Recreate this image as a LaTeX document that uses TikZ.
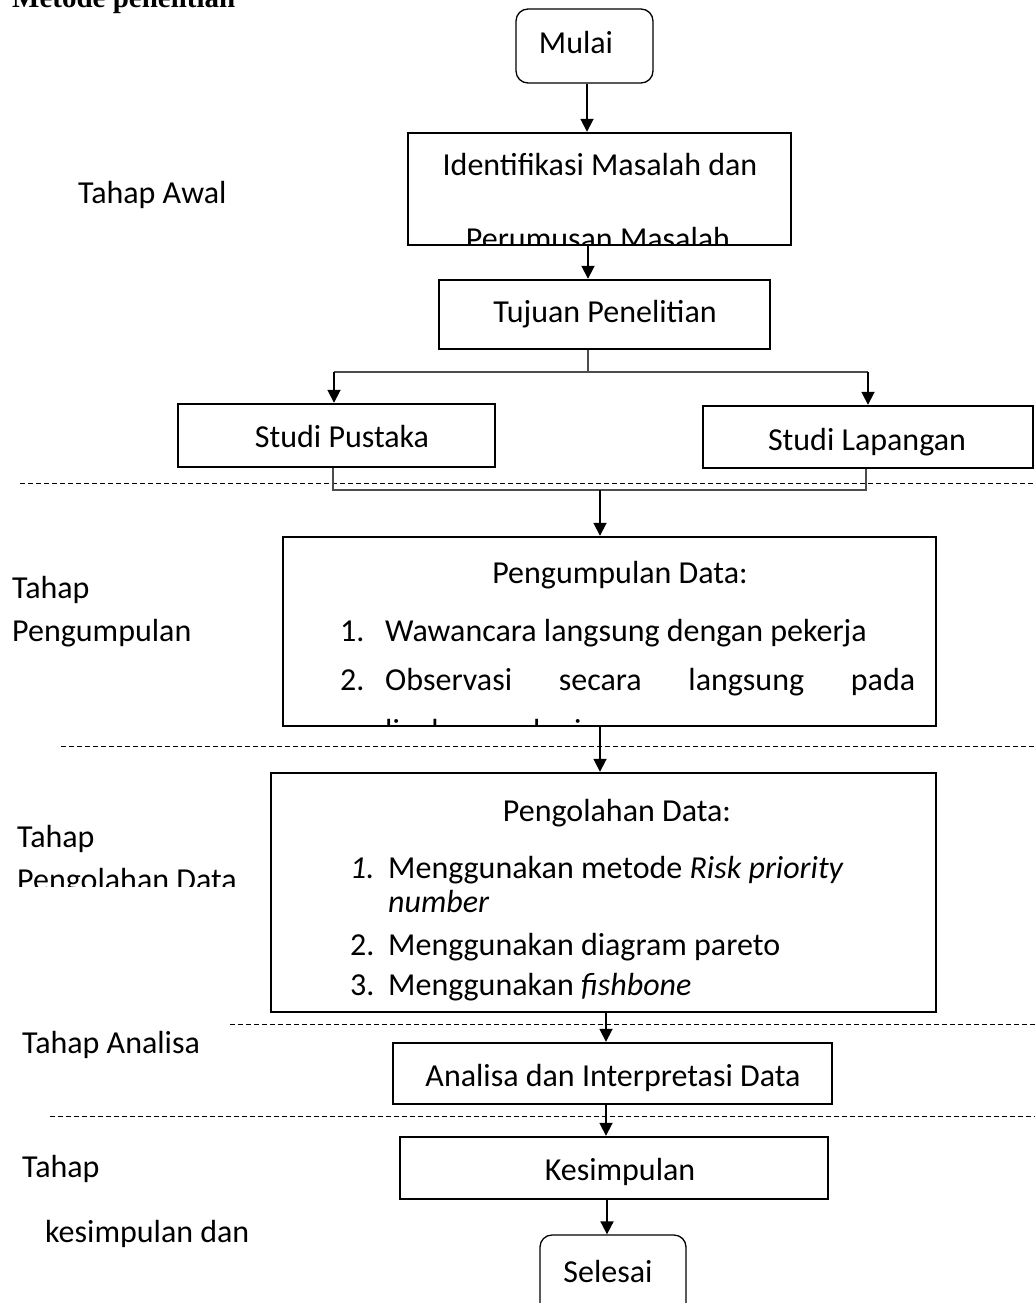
\documentclass[tikz,border=0pt]{standalone}
\usepackage{fontspec}
\setmainfont{Carlito}
\newfontfamily\titlefont{Liberation Serif}
\usetikzlibrary{arrows.meta,calc}
\tikzset{
  box/.style={draw, line width=2.4pt, inner sep=0pt},
  term/.style={draw, line width=1.3pt, rounded corners=12pt, inner sep=0pt},
  arr/.style={-{Triangle[length=13pt,width=13pt]}, line width=1.8pt},
  conn/.style={line width=1.4pt, draw=black!70},
  sepline/.style={line width=0.9pt, dash pattern=on 5pt off 3pt},
  txt/.style={font=\fontsize{32}{39}\selectfont, inner sep=0pt, anchor=base},
  lab/.style={font=\fontsize{32}{39}\selectfont, inner sep=0pt, anchor=base west},
}
\begin{document}
\begin{tikzpicture}[x=1pt,y=-1pt]
\useasboundingbox (0,0) rectangle (1035,1303);
% title (partly cut off at top)
\node[inner sep=0pt, anchor=base west, font=\titlefont\bfseries\fontsize{29}{34}\selectfont] (title) at (12,8) {Metode penelitian};

% boxes
\node[term, minimum width=137pt, minimum height=74pt] (mulai) at (584.5,46) {};
\node[box, minimum width=383pt, minimum height=112pt] (ident) at (599.5,189) {};
\node[box, minimum width=331pt, minimum height=69pt] (tujuan) at (604.5,314.5) {};
\node[box, minimum width=317pt, minimum height=63pt] (pustaka) at (336.5,435.5) {};
\node[box, minimum width=330pt, minimum height=62pt] (lapangan) at (868,437) {};
\node[box, minimum width=653pt, minimum height=189pt] (kumpul) at (609.5,631.5) {};
\node[box, minimum width=665pt, minimum height=239pt] (olah) at (603.5,892.5) {};
\node[box, minimum width=439pt, minimum height=61pt] (analisa) at (612.5,1073.5) {};
\node[box, minimum width=428pt, minimum height=62pt] (simpul) at (614,1168) {};
\node[term, minimum width=146pt, minimum height=85pt] (selesai) at (613,1277.5) {};

% texts in boxes
\node[txt] (tmulai) at (576,54) {Mulai};
\begin{scope}
\clip ($(ident.south west)+(1.2,-1.2)$) rectangle ($(ident.north east)+(-1.2,1.2)$);
\node[txt] (tident1) at (600,175) {Identifikasi Masalah dan};
\node[txt] (tident2) at (598,249) {Perumusan Masalah};
\end{scope}
\node[txt] (ttujuan) at (605,322) {Tujuan Penelitian};
\node[txt] (tpustaka) at (342,447) {Studi Pustaka};
\node[txt] (tlapangan) at (867,450) {Studi Lapangan};
\begin{scope}
\clip ($(kumpul.south west)+(1.2,-1.2)$) rectangle ($(kumpul.north east)+(-1.2,1.2)$);
\node[txt] (tkumpul) at (620,583) {Pengumpulan Data:};
\node[lab] (tk1n) at (340,641) {1.};
\node[lab] (tk1) at (385,641) {Wawancara langsung dengan pekerja};
\node[lab] (tk2n) at (340,690) {2.};
\node[lab] (tk2) at (385,690) {\makebox[530pt][s]{Observasi secara langsung pada}};
\node[lab] (tk3) at (385,741) {lingkungan kerja};
\end{scope}
\node[txt] (tolah) at (617,821) {Pengolahan Data:};
\node[lab] (to1n) at (350,878) {\itshape 1.};
\node[lab] (to1) at (388,878) {Menggunakan metode \textit{Risk priority}};
\node[lab] (to1b) at (388,912) {\textit{number}};
\node[lab] (to2n) at (350,955) {2.};
\node[lab] (to2) at (388,955) {Menggunakan diagram pareto};
\node[lab] (to3n) at (350,995) {3.};
\node[lab] (to3) at (388,995) {Menggunakan \textit{fishbone}};
\node[txt] (tanalisa) at (613,1086) {Analisa dan Interpretasi Data};
\node[txt] (tsimpul) at (620,1180) {Kesimpulan};
\node[txt] (tselesai) at (608,1282) {Selesai};

% left stage labels
\node[lab] (lawal) at (78,203) {Tahap Awal};
\node[lab] (lkum1) at (12,598) {Tahap};
\node[lab] (lkum2) at (12,641) {Pengumpulan};
\node[lab] (lolah1) at (17,847) {Tahap};
\begin{scope}
\clip (0,700) rectangle (300,886);
\node[lab] (lolah2) at (17,890) {Pengolahan Data};
\end{scope}
\node[lab] (lanalisa) at (22,1053) {Tahap Analisa};
\node[lab] (lsimp1) at (22,1177) {Tahap};
\node[lab] (lsimp2) at (45,1242) {kesimpulan dan};

% dashed separators
\draw[sepline] (20,483) -- (1035,483);
\draw[sepline] (61,746) -- (1035,746);
\draw[sepline] (230,1024) -- (1035,1024);
\draw[sepline] (50,1116) -- (1035,1116);

% connectors
\coordinate (c0) at (587,0);
\coordinate (c1) at (588,0);
\coordinate (spL) at (334,372);
\coordinate (spR) at (868,372);
\coordinate (jL) at (333,490);
\coordinate (jR) at (866,490);
\coordinate (jM) at (600,490);
\coordinate (c2) at (600,0);
\coordinate (c3) at (606,0);
\coordinate (c4) at (607,0);
\draw[arr] (c0 |- mulai.south) -- (c0 |- ident.north);
\draw[arr] (c1 |- ident.south) -- (c1 |- tujuan.north);
\draw[conn] (c1 |- tujuan.south) -- (c1 |- spL);
\draw[conn] (spL) -- (spR);
\draw[arr] (spL) -- (spL |- pustaka.north);
\draw[arr] (spR) -- (spR |- lapangan.north);
\draw[conn] (jL |- pustaka.south) -- (jL) -- (jR) -- (jR |- lapangan.south);
\draw[arr] (jM) -- (jM |- kumpul.north);
\draw[arr] (c2 |- kumpul.south) -- (c2 |- olah.north);
\draw[arr] (c3 |- olah.south) -- (c3 |- analisa.north);
\draw[arr] (c3 |- analisa.south) -- (c3 |- simpul.north);
\draw[arr] (c4 |- simpul.south) -- (c4 |- selesai.north);
\end{tikzpicture}
\end{document}
